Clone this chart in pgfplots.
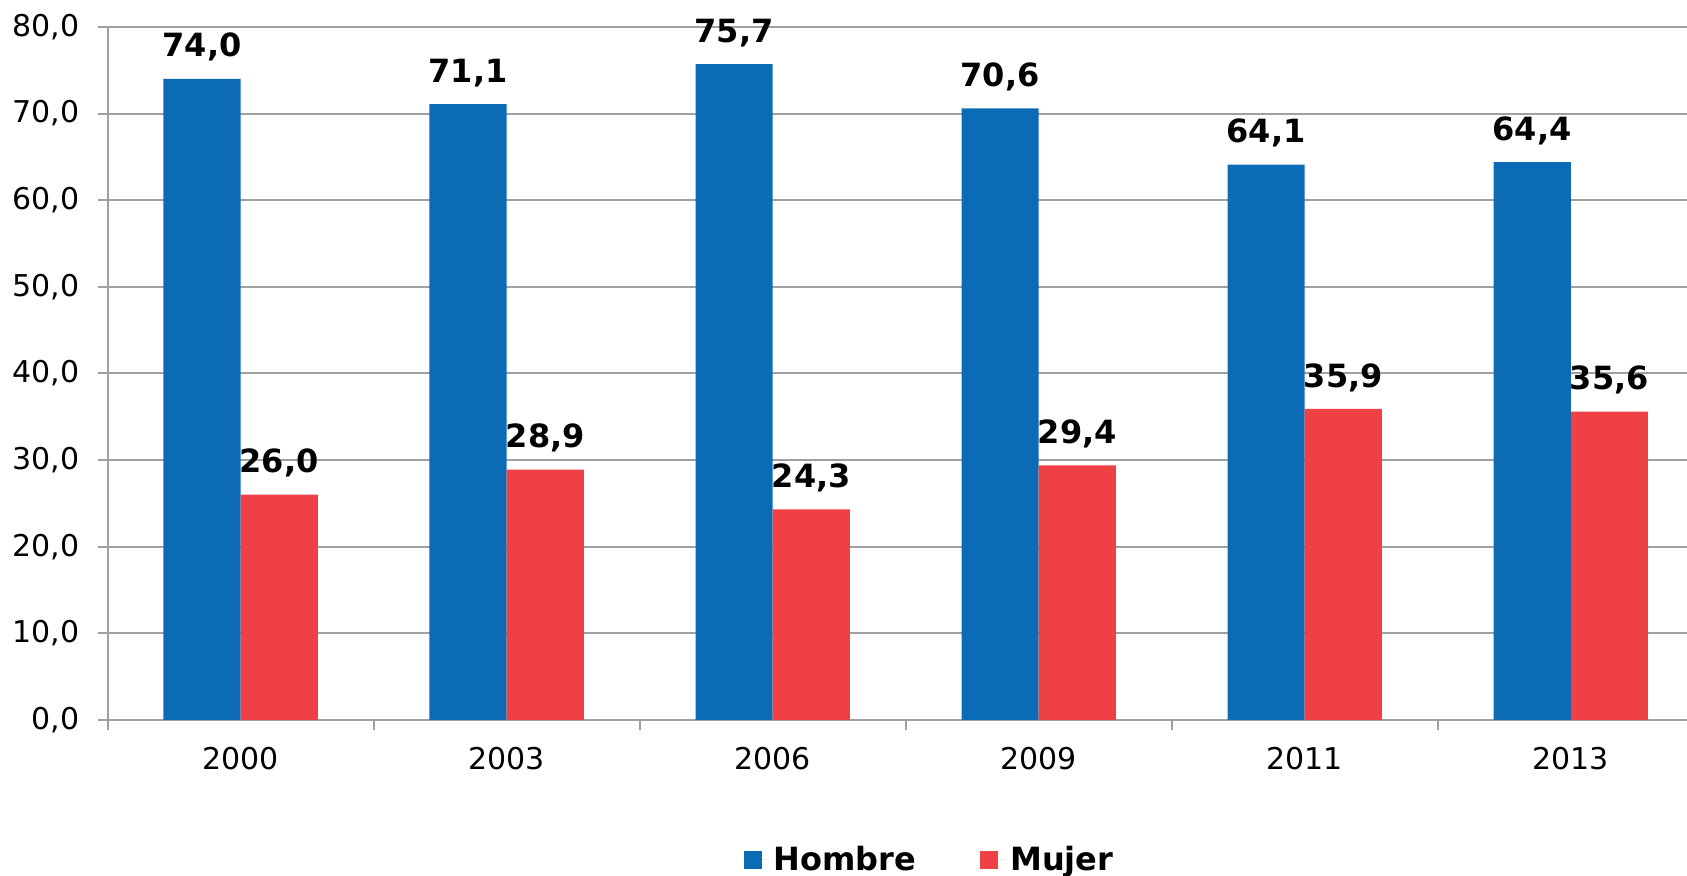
\documentclass[border=0pt]{standalone}
\usepackage{pgfplots}
\pgfplotsset{compat=1.18}
\usepackage{fontspec}
\setmainfont{DejaVu Sans}
\definecolor{cblue}{HTML}{0B6BB5}
\definecolor{cred}{HTML}{EF4045}
\definecolor{cgrid}{HTML}{A0A0A0}
\newcommand\f{\fontsize{15}{18}\selectfont}
\newcommand\fb{\fontsize{16}{19}\selectfont\bfseries}
\begin{document}
\begin{tikzpicture}
\useasboundingbox (-53.8pt,-78pt) rectangle (789.7pt,360pt);
\begin{axis}[
  at={(0pt,0pt)}, anchor=south west,
  scale only axis, width=789.7pt, height=346.55pt,
  xmin=-0.5, xmax=5.437, ymin=0, ymax=80,
  axis x line=bottom, axis y line=left,
  axis line style={-, cgrid, line width=1pt},
  ybar=0pt, bar width=0.29,
  ymajorgrids, grid style={cgrid, line width=1pt},
  ytick={0,10,...,80},
  tick align=outside, major tick length=5pt,
  tick style={cgrid, line width=1pt},
  xtick={-0.5,0.5,1.5,2.5,3.5,4.5},
  xticklabels={},
  extra x ticks={0,1,2,3,4,5},
  extra x tick labels={2000,2003,2006,2009,2011,2013},
  extra x tick style={major tick length=0pt, grid=none, xticklabel style={font=\f, inner sep=0pt, yshift=-13.3pt}},
  yticklabel style={font=\f, inner sep=0pt, xshift=-9pt},
  /pgf/number format/.cd, fixed, fixed zerofill, precision=1, use comma, assume math mode=true,
  /pgfplots/.cd,
  nodes near coords={\pgfmathprintnumber[fixed,fixed zerofill,precision=1,use comma,assume math mode=true]{\pgfplotspointmeta}},
  every node near coord/.append style={font=\fb, inner sep=0pt, yshift=8.5pt, black},
  legend columns=2,
  legend style={at={(0.521,-0.202)}, anchor=center, draw=none, font=\fb,
    /tikz/every even column/.append style={column sep=30pt}},
  legend image code/.code={\fill[#1] (0pt,-4.5pt) rectangle (9pt,4.5pt); \path (0pt,0pt) -- (13pt,0pt);},
]
\addplot[fill=cblue, draw=none] coordinates {(0,74.0) (1,71.1) (2,75.7) (3,70.6) (4,64.1) (5,64.4)};
\addplot[fill=cred, draw=none] coordinates {(0,26.0) (1,28.9) (2,24.3) (3,29.4) (4,35.9) (5,35.6)};
\legend{Hombre,Mujer}
\end{axis}
\end{tikzpicture}
\end{document}
